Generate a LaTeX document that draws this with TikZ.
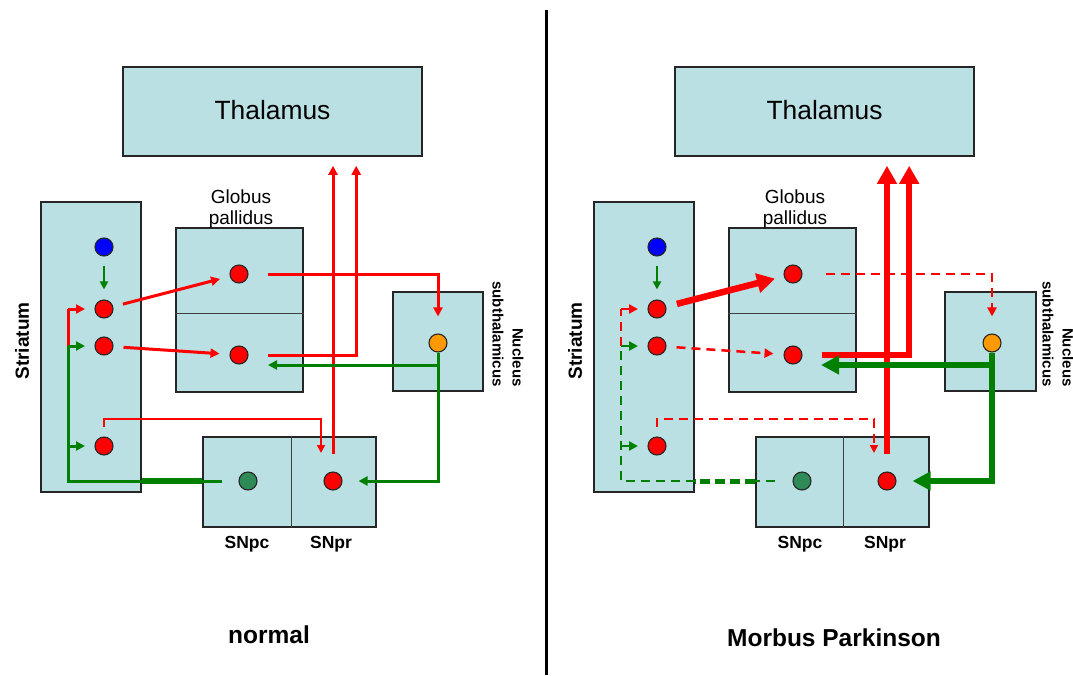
\documentclass[tikz,border=0pt]{standalone}
\usepackage{fontspec}
\setmainfont{Liberation Sans}
\usetikzlibrary{arrows.meta,calc}
\definecolor{boxfill}{RGB}{187,224,227}
\definecolor{myred}{RGB}{255,0,0}
\definecolor{mygreen}{RGB}{0,128,0}
\definecolor{sngreen}{RGB}{46,139,87}
\definecolor{myblue}{RGB}{0,0,255}
\definecolor{myorange}{RGB}{255,153,0}
\begin{document}
\begin{tikzpicture}[x=1pt,y=-1pt,
  box/.style={draw=black!85, line width=1.6pt, fill=boxfill, inner sep=0pt},
  divider/.style={draw=black!75, line width=1pt},
  dot/.style={circle, draw=black!85, line width=1.1pt, minimum size=18pt, inner sep=0pt},
  thalfont/.style={font=\fontsize{26.4}{30}\selectfont},
  gpfont/.style={font=\fontsize{19}{21}\selectfont, align=center},
  strfont/.style={font=\fontsize{19}{22}\selectfont\bfseries},
  nstfont/.style={font=\fontsize{15}{20}\selectfont\bfseries, align=right},
  snfont/.style={font=\fontsize{17.5}{20}\selectfont\bfseries},
  titlefont/.style={font=\fontsize{24.5}{28}\selectfont\bfseries},
  % left panel styles
  rLine/.style={draw=myred, line width=3pt},
  rArr/.style={rLine, -{Triangle[length=9pt,width=9pt]}},
  rThinArr/.style={draw=myred, line width=1.8pt, -{Triangle[length=8pt,width=8pt]}},
  gLine/.style={draw=mygreen, line width=3pt},
  gThick/.style={draw=mygreen, line width=6pt},
  gArr/.style={gLine, -{Triangle[length=9pt,width=9pt]}},
  gArrS/.style={draw=mygreen, line width=2.2pt, -{Triangle[length=8pt,width=8pt]}},
  % right panel styles
  rBigArr/.style={draw=myred, line width=6.5pt, -{Triangle[length=18pt,width=19pt]}},
  rDash/.style={draw=myred, line width=2.5pt, dash pattern=on 9pt off 6pt},
  rDashArr/.style={rDash, -{Triangle[length=9pt,width=9pt]}},
  rDashThinArr/.style={draw=myred, line width=1.8pt, dash pattern=on 9pt off 6pt, -{Triangle[length=8pt,width=8pt]}},
  gDash/.style={draw=mygreen, line width=2.5pt, dash pattern=on 9pt off 6pt},
  gDashThick/.style={draw=mygreen, line width=5pt, dash pattern=on 10pt off 5pt},
  gBigArr/.style={draw=mygreen, line width=5.5pt, -{Triangle[length=18pt,width=18pt]}}
]
\useasboundingbox (0,0) rectangle (1073,675);

% separator
\draw[line width=3pt] (546,10) -- (546,675);

%================ LEFT PANEL (normal) =================
\node[box, thalfont, minimum width=299pt, minimum height=89pt] (LthL) at (272.5,111.5) {\raisebox{3pt}{Thalamus}};
\node[box, minimum width=100pt, minimum height=290pt] (LstrL) at (91,347) {};
\node[box, minimum width=127pt, minimum height=164pt] (LgpL) at (239.5,310) {};
\draw[divider] ($(LgpL.west)+(0,3)$) -- ($(LgpL.east)+(0,3)$);
\node[box, minimum width=90pt, minimum height=99pt] (LnstL) at (438,341.5) {};
\node[box, minimum width=173pt, minimum height=90pt] (LsnL) at (289.5,482) {};
\draw[divider] ($(LsnL.north)+(1.5,0)$) -- ($(LsnL.south)+(1.5,0)$);

\node[strfont, rotate=90] (LstrT) at (22,341) {Striatum};
\node[gpfont] (LgpT) at (241,209) {Globus\\pallidus};
\node[nstfont, rotate=-90] (LnstT) at (508,334) {Nucleus\\subthalamicus};
\node[snfont] (LsnpcT) at (247,544) {SNpc};
\node[snfont] (LsnprT) at (331,544) {SNpr};
\node[titlefont] (LtitleT) at (269,635) {normal};

\node[dot, fill=myblue] (LsB) at (104,247) {};
\node[dot, fill=myred] (LsR1) at (104,309) {};
\node[dot, fill=myred] (LsR2) at (104,346) {};
\node[dot, fill=myred] (LsR3) at (104,446) {};
\node[dot, fill=myred] (LgT) at (239,274) {};
\node[dot, fill=myred] (LgB) at (239,355) {};
\node[dot, fill=myorange] (Lo) at (438,343) {};
\node[dot, fill=sngreen] (Lsnpc) at (248,481) {};
\node[dot, fill=myred] (Lspr) at (333,481) {};

\coordinate (Lv1) at ($(LsR1)+(-36,0)$);
\coordinate (Lv2) at ($(LsR2)+(-36,0)$);
\coordinate (Lv3) at ($(LsR3)+(-36,0)$);
\coordinate (LvB) at (Lv1 |- Lsnpc);

\draw[gArrS, shorten <=9pt, shorten >=10pt] (LsB) -- (LsR1);
\draw[rArr, shorten <=10pt, shorten >=10pt] (LsR1) -- (LgT);
\draw[rArr, shorten <=10pt, shorten >=10pt] (LsR2) -- (LgB);
\draw[rArr, shorten <=19pt, shorten >=17pt] (LgT) -| (Lo);
\draw[rArr, shorten <=19pt, shorten >=9pt] (LgB) -| ($(LthL.south west)+(234,0)$);
\draw[rArr, shorten <=17pt, shorten >=9pt] (Lspr) -- (Lspr |- LthL.south);
\draw[gArr, shorten >=16pt] (Lo) |- (Lspr);
\draw[gArr] ($(Lo)+(0,22)$) -- ($(LgB)+(29,10)$);
\draw[rThinArr] ($(LsR3)+(0,-19)$) -- ($(LsR3)+(0,-27)$) -| ($(Lspr)+(-12,-28)$);
\draw[gLine] ($(Lsnpc)+(-26,0)$) -- (LvB) -- (Lv2);
\draw[gThick] (LstrL.east |- LvB) -- (LsnL.west |- LvB);
\draw[rLine] (Lv2) -- (Lv1);
\draw[rArr] (Lv1) -- ($(LsR1)+(-19,0)$);
\draw[gArr] (Lv2) -- ($(LsR2)+(-19,0)$);
\draw[gArr] (Lv3) -- ($(LsR3)+(-19,0)$);

%================ RIGHT PANEL (Morbus Parkinson) =================
\node[box, thalfont, minimum width=299pt, minimum height=89pt] (RthL) at (824.5,111.5) {\raisebox{3pt}{Thalamus}};
\node[box, minimum width=100pt, minimum height=290pt] (RstrL) at (644,347) {};
\node[box, minimum width=127pt, minimum height=164pt] (RgpL) at (792.5,310) {};
\draw[divider] ($(RgpL.west)+(0,3)$) -- ($(RgpL.east)+(0,3)$);
\node[box, minimum width=91pt, minimum height=99pt] (RnstL) at (990.5,341.5) {};
\node[box, minimum width=173pt, minimum height=90pt] (RsnL) at (842.5,482) {};
\draw[divider] ($(RsnL.north)+(0.5,0)$) -- ($(RsnL.south)+(0.5,0)$);

\node[strfont, rotate=90] (RstrT) at (575,341) {Striatum};
\node[gpfont] (RgpT) at (795,209) {Globus\\pallidus};
\node[nstfont, rotate=-90] (RnstT) at (1058,334) {Nucleus\\subthalamicus};
\node[snfont] (RsnpcT) at (800,544) {SNpc};
\node[snfont] (RsnprT) at (885,544) {SNpr};
\node[titlefont] (RtitleT) at (834,638) {Morbus Parkinson};

\node[dot, fill=myblue] (RsB) at (657,247) {};
\node[dot, fill=myred] (RsR1) at (657,309) {};
\node[dot, fill=myred] (RsR2) at (657,346) {};
\node[dot, fill=myred] (RsR3) at (657,446) {};
\node[dot, fill=myred] (RgT) at (793,274) {};
\node[dot, fill=myred] (RgB) at (793,355) {};
\node[dot, fill=myorange] (Ro) at (992,343) {};
\node[dot, fill=sngreen] (Rsnpc) at (802,481) {};
\node[dot, fill=myred] (Rspr) at (887,481) {};

\coordinate (Rv1) at ($(RsR1)+(-36,0)$);
\coordinate (Rv2) at ($(RsR2)+(-36,0)$);
\coordinate (Rv3) at ($(RsR3)+(-36,0)$);
\coordinate (RvB) at (Rv1 |- Rsnpc);

\draw[gArrS, shorten <=9pt, shorten >=10pt] (RsB) -- (RsR1);
\draw[rBigArr, shorten <=11pt, shorten >=9pt] (RsR1) -- (RgT);
\draw[rDashArr, shorten <=10pt, shorten >=10pt] (RsR2) -- (RgB);
\draw[rDashArr, shorten <=23pt, shorten >=17pt] (RgT) -| (Ro);
\draw[rBigArr, shorten <=19pt, shorten >=9pt] (RgB) -| ($(RthL.south west)+(235,0)$);
\draw[rBigArr, shorten <=17pt, shorten >=9pt] (Rspr) -- (Rspr |- RthL.south);
\draw[gBigArr, shorten >=16pt] (Ro) |- (Rspr);
\draw[gBigArr] ($(Ro)+(0,22)$) -- ($(RgB)+(28,10)$);
\draw[rDashThinArr] ($(RsR3)+(0,-19)$) -- ($(RsR3)+(0,-27)$) -| ($(Rspr)+(-13,-28)$);
\draw[gDash] ($(Rsnpc)+(-27,0)$) -- (RsnL.west |- RvB);
\draw[gDashThick] (RsnL.west |- RvB) -- (RstrL.east |- RvB);
\draw[gDash] (RstrL.east |- RvB) -- (RvB) -- (Rv2);
\draw[rDash] (Rv2) -- (Rv1);
\draw[draw=myred, line width=2.5pt, -{Triangle[length=9pt,width=9pt]}] (Rv1) -- ($(RsR1)+(-19,0)$);
\draw[gArr, line width=2.5pt] (Rv2) -- ($(RsR2)+(-19,0)$);
\draw[gArr, line width=2.5pt] (Rv3) -- ($(RsR3)+(-19,0)$);
\end{tikzpicture}
\end{document}
